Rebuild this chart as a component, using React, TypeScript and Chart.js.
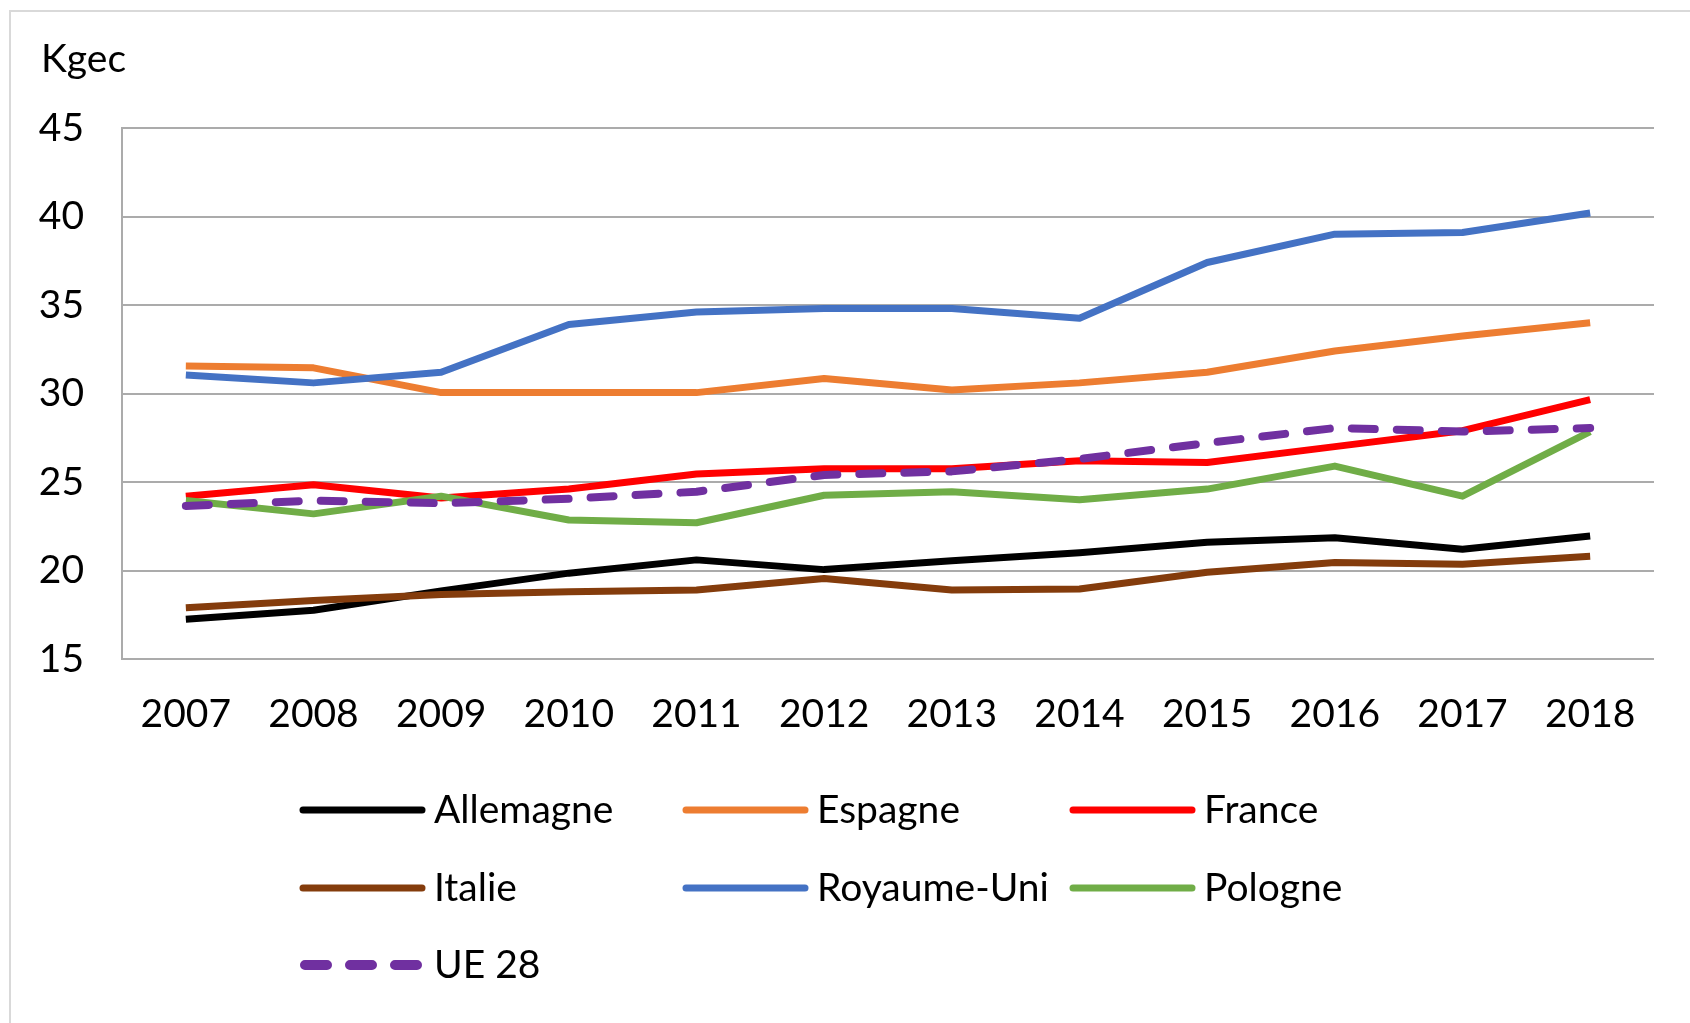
import React, { useEffect, useRef } from "react";
import { Chart, registerables } from "chart.js";

Chart.register(...registerables);

const years = ["2007", "2008", "2009", "2010", "2011", "2012", "2013", "2014", "2015", "2016", "2017", "2018"];
const allemagne = [17.24, 17.75, 18.85, 19.85, 20.6, 20.05, 20.55, 21.0, 21.6, 21.85, 21.2, 21.95];
const espagne = [31.55, 31.45, 30.05, 30.05, 30.05, 30.85, 30.2, 30.6, 31.2, 32.4, 33.25, 34.0];
const france = [24.2, 24.85, 24.1, 24.6, 25.45, 25.75, 25.75, 26.2, 26.1, 27.0, 27.9, 29.65];
const italie = [17.9, 18.3, 18.65, 18.8, 18.9, 19.55, 18.9, 18.95, 19.9, 20.45, 20.35, 20.8];
const royaumeUni = [31.05, 30.6, 31.2, 33.9, 34.6, 34.8, 34.8, 34.25, 37.4, 39.0, 39.1, 40.2];
const pologne = [23.95, 23.2, 24.2, 22.85, 22.7, 24.25, 24.45, 24.0, 24.6, 25.9, 24.2, 27.85];
const ue28 = [23.65, 23.95, 23.8, 24.05, 24.45, 25.4, 25.6, 26.3, 27.2, 28.05, 27.85, 28.05];

const seriesNames = ["Allemagne", "Espagne", "France", "Italie", "Royaume-Uni", "Pologne", "UE 28"];
const seriesColors = ["#000000", "#ED7D31", "#FF0000", "#843C0C", "#4472C4", "#70AD47", "#7030A0"];
const seriesValues = [allemagne, espagne, france, italie, royaumeUni, pologne, ue28];
const yTicks = [15, 20, 25, 30, 35, 40, 45];
const unitLabel = "Kgec";

const FONT = "Lato, 'Open Sans', sans-serif";
const DASH = [23, 22];

const overlayPlugin = {
  id: "overlay",
  afterDraw(chart: any) {
    const ctx = chart.ctx;
    ctx.save();
    ctx.fillStyle = "#000";
    ctx.font = `39px ${FONT}`;
    ctx.textBaseline = "alphabetic";
    ctx.textAlign = "left";
    ctx.fillText(unitLabel, 41, 72);

    const colX = [300, 683, 1070];
    const rowY = [810, 888, 965];
    chart.data.datasets.forEach((ds: any, i: number) => {
      const x = colX[i % 3];
      const y = rowY[Math.floor(i / 3)];
      ctx.beginPath();
      ctx.strokeStyle = ds.borderColor;
      ctx.lineCap = "round";
      if (ds.borderDash && ds.borderDash.length) {
        ctx.lineWidth = 10;
        ctx.setLineDash([22, 23]);
        ctx.moveTo(x + 5, y);
        ctx.lineTo(x + 125, y);
      } else {
        ctx.lineWidth = 7;
        ctx.setLineDash([]);
        ctx.moveTo(x + 3, y);
        ctx.lineTo(x + 122, y);
      }
      ctx.stroke();
      ctx.setLineDash([]);
      ctx.fillStyle = "#000";
      ctx.font = `39px ${FONT}`;
      ctx.textBaseline = "middle";
      ctx.fillText(ds.label, x + 134, y);
    });
    ctx.restore();
  },
};

export default function App() {
  const ref = useRef<HTMLCanvasElement>(null);

  useEffect(() => {
    if (!ref.current) return;
    const datasets = seriesNames.map((name, i) => {
      const dashed = name === "UE 28";
      return {
        label: name,
        data: seriesValues[i],
        borderColor: seriesColors[i],
        backgroundColor: seriesColors[i],
        borderWidth: dashed ? 8 : 7,
        pointRadius: 0,
        tension: 0,
        fill: false,
        borderJoinStyle: "round" as const,
        borderCapStyle: (dashed ? "round" : "butt") as any,
        borderDash: dashed ? DASH : [],
        order: seriesNames.length - i,
      };
    });
    const chart = new Chart(ref.current, {
      type: "line",
      data: { labels: years, datasets },
      options: {
        animation: false,
        responsive: false,
        devicePixelRatio: 1,
        layout: { padding: { top: 128, right: 36, bottom: 264, left: 0 } },
        plugins: {
          legend: { display: false },
          title: { display: false },
          tooltip: { enabled: false },
        },
        scales: {
          x: {
            type: "category",
            offset: true,
            grid: { display: false, drawTicks: false },
            border: { display: false },
            ticks: {
              color: "#000",
              font: { family: FONT, size: 39 },
              padding: 32,
              maxRotation: 0,
              autoSkip: false,
            },
            afterFit: (s: any) => {
              s.height = 100;
            },
          },
          y: {
            min: 15,
            max: 45,
            afterBuildTicks: (s: any) => {
              s.ticks = yTicks.map((v) => ({ value: v }));
            },
            grid: { color: "#ABABAB", lineWidth: 2, drawTicks: false },
            border: { display: true, color: "#ABABAB", width: 2 },
            ticks: {
              color: "#000",
              font: { family: FONT, size: 39 },
              padding: 38,
            },
            afterFit: (s: any) => {
              s.width = 122;
            },
          },
        },
      },
      plugins: [overlayPlugin],
    });
    return () => chart.destroy();
  }, []);

  return (
    <div style={{ position: "absolute", left: 0, top: 0, width: 1690, height: 1023, background: "#fff" }}>
      <div
        style={{
          position: "absolute",
          left: 9,
          top: 10,
          right: 0,
          bottom: 0,
          borderLeft: "2px solid #D9D9D9",
          borderTop: "2px solid #D9D9D9",
        }}
      />
      <canvas ref={ref} width={1690} height={1023} style={{ position: "absolute", left: 0, top: 0 }} />
    </div>
  );
}
